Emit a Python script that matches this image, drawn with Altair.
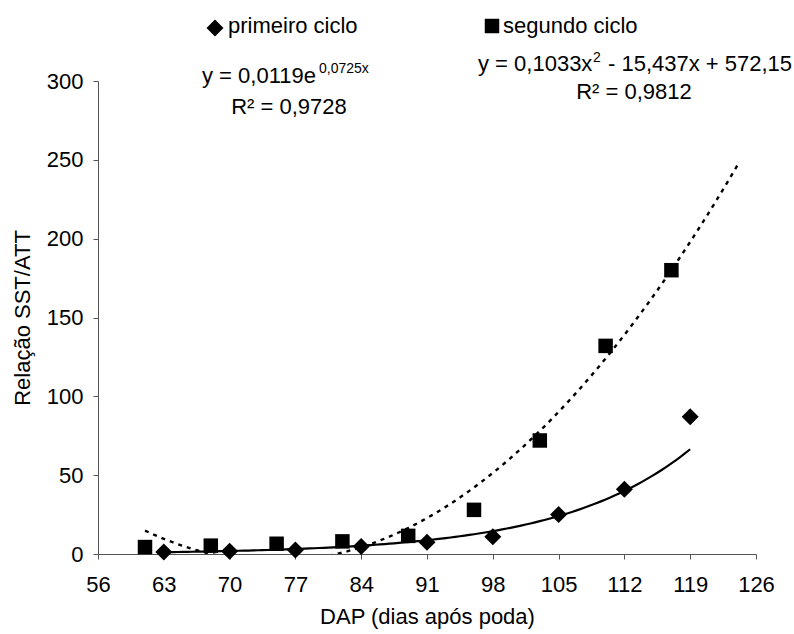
import altair as alt
import pandas as pd

# ---- data ----
x_primeiro = [63, 70, 77, 84, 91, 98, 105, 112, 119]
y_primeiro = [1.3, 1.7, 2.5, 4.8, 7.5, 11, 25, 41, 87]
x_segundo = [61, 68, 75, 82, 89, 96, 103, 110, 117]
y_segundo = [4.4, 5.3, 6.5, 8, 11.5, 28, 72, 132, 180]

series_names = ["primeiro ciclo", "segundo ciclo"]
x_ticks = [56, 63, 70, 77, 84, 91, 98, 105, 112, 119, 126]
y_ticks = [0, 50, 100, 150, 200, 250, 300]

# trendline coefficients (as printed on the chart)
exp_a, exp_b = 0.0119, 0.0725
exp_range = [63, 119]
poly_a, poly_b, poly_c = 0.1033, -15.437, 572.15
poly_range = [61, 124]

FONT = "Liberation Sans"
FS = 22

pts = pd.DataFrame(
    {
        "x": x_primeiro + x_segundo,
        "y": y_primeiro + y_segundo,
        "serie": [series_names[0]] * len(x_primeiro) + [series_names[1]] * len(x_segundo),
    }
)

xscale = alt.Scale(domain=[56, 126], nice=False, zero=False)
yscale = alt.Scale(domain=[0, 300], nice=False)

xaxis = alt.Axis(
    values=x_ticks, title="DAP (dias após poda)", grid=False,
    labelFontSize=FS, titleFontSize=FS, titleFontWeight="normal",
    tickSize=5, labelPadding=15, titlePadding=11,
    domainColor="#555555", tickColor="#555555", labelColor="black",
    titleColor="black", labelFlush=False, labelOverlap=False,
)
yaxis = alt.Axis(
    values=y_ticks, title="Relação SST/ATT", grid=False,
    labelFontSize=FS, titleFontSize=FS, titleFontWeight="normal",
    tickSize=5, labelPadding=10, titlePadding=12,
    domainColor="#555555", tickColor="#555555", labelColor="black",
    titleColor="black",
)

points = alt.Chart(pts).mark_point(filled=True, opacity=1, color="black").encode(
    x=alt.X("x:Q", scale=xscale, axis=xaxis),
    y=alt.Y("y:Q", scale=yscale, axis=yaxis),
    shape=alt.Shape("serie:N", scale=alt.Scale(domain=series_names, range=["diamond", "square"]), legend=None),
    size=alt.Size("serie:N", scale=alt.Scale(domain=series_names, range=[290, 210]), legend=None),
)

exp_line = (
    alt.Chart(alt.sequence(exp_range[0], exp_range[1] + 0.25, 0.5, as_="x"))
    .transform_calculate(y=f"{exp_a} * exp({exp_b} * datum.x)")
    .mark_line(color="black", strokeWidth=2.2)
    .encode(x=alt.X("x:Q", scale=xscale), y=alt.Y("y:Q", scale=yscale))
)

poly_line = (
    alt.Chart(alt.sequence(poly_range[0], poly_range[1] + 0.25, 0.5, as_="x"))
    .transform_calculate(y=f"{poly_a} * datum.x * datum.x + ({poly_b}) * datum.x + {poly_c}")
    .mark_line(color="black", strokeWidth=2.4, strokeDash=[4, 5], clip=True)
    .encode(x=alt.X("x:Q", scale=xscale), y=alt.Y("y:Q", scale=yscale))
)

# ---- legend (manual, above plot) ----
leg_sym = pd.DataFrame({"serie": series_names, "sx": [117, 394], "sy": [-53, -55], "tx": [130, 405]})
legend_symbols = alt.Chart(leg_sym).mark_point(filled=True, opacity=1, color="black").encode(
    x=alt.X("sx:Q", scale=None),
    y=alt.Y("sy:Q", scale=None),
    shape=alt.Shape("serie:N", scale=alt.Scale(domain=series_names, range=["diamond", "square"]), legend=None),
    size=alt.Size("serie:N", scale=alt.Scale(domain=series_names, range=[270, 180]), legend=None),
)
legend_text = alt.Chart(leg_sym).mark_text(
    align="left", baseline="alphabetic", font=FONT, fontSize=FS, color="black"
).encode(x=alt.X("tx:Q", scale=None), y=alt.value(-48), text="serie:N")

# ---- equations ----
def txt(s, x, y, size=FS, align="left"):
    return alt.Chart(pd.DataFrame({"t": [s]})).mark_text(
        align=align, baseline="alphabetic", font=FONT, fontSize=size, color="black"
    ).encode(x=alt.value(x), y=alt.value(y), text="t:N")

eqs = [
    txt("y = 0,0119e", 104, 2),
    txt("0,0725x", 221, -8, 14),
    txt("R² = 0,9728", 191, 33, align="center"),
    txt("y = 0,1033x", 380, -10),
    txt("2", 495, -19, 14),
    txt("- 15,437x + 572,15", 510, -10),
    txt("R² = 0,9812", 536, 18, align="center"),
]

chart = alt.layer(poly_line, exp_line, points, legend_symbols, legend_text, *eqs).properties(
    width=658, height=473,
    autosize=alt.AutoSizeParams(type="none"),
    padding={"left": 98, "top": 81, "right": 38, "bottom": 80},
    background="white",
).configure(font=FONT).configure_view(stroke=None)

chart.save("out.html", embed_options={"renderer": "svg", "actions": False})
